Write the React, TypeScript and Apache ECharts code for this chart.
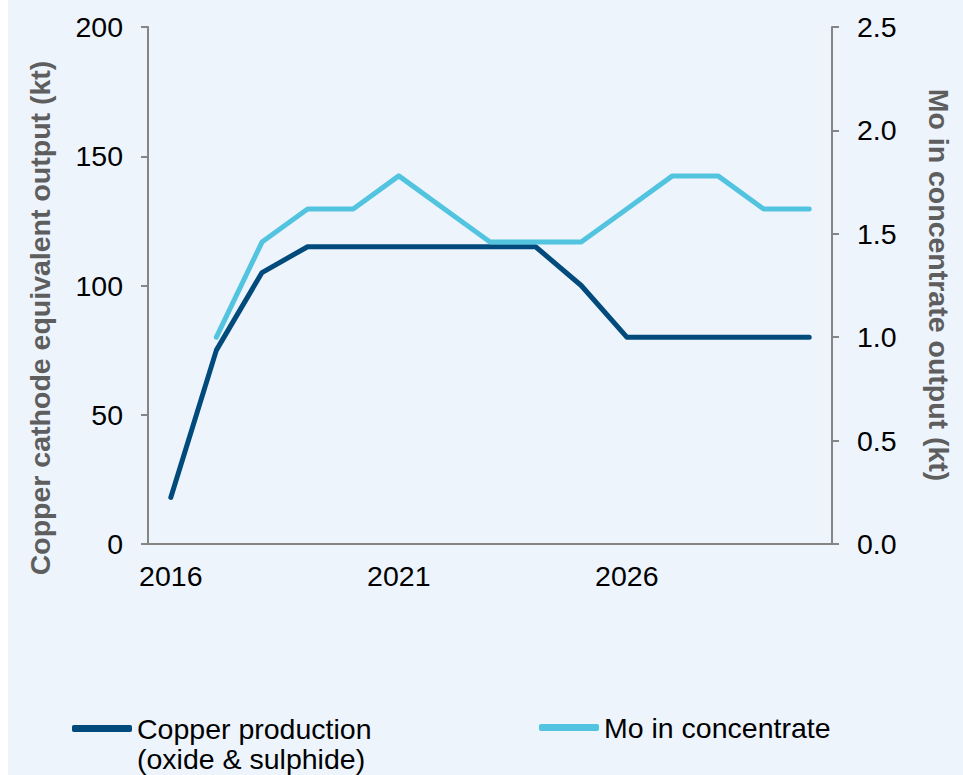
import React, { useEffect, useRef } from "react";
import * as echarts from "echarts";

const years = ["2016","2017","2018","2019","2020","2021","2022","2023","2024","2025","2026","2027","2028","2029","2030"];
const copperProduction = [18, 75, 105, 115, 115, 115, 115, 115, 115, 100, 80, 80, 80, 80, 80];
const moInConcentrate = [null, 1.0, 1.46, 1.62, 1.62, 1.78, 1.62, 1.46, 1.46, 1.46, 1.62, 1.78, 1.78, 1.62, 1.62];
const leftTicks = { min: 0, max: 200, interval: 50 };
const rightTicks = { min: 0, max: 2.5, interval: 0.5 };

const FONT = "'Liberation Sans', Arial, sans-serif";
const DARK = "#004A7C";
const LIGHT = "#52C4E0";
const AXIS = "#858585";

export default function App() {
  const ref = useRef<HTMLDivElement>(null);
  useEffect(() => {
    if (!ref.current) return;
    const chart = echarts.init(ref.current, null, { renderer: "svg" });
    chart.setOption({
      animation: false,
      backgroundColor: "#EDF4FC",
      textStyle: { fontFamily: FONT },
      grid: { left: 140, right: 131, top: 27, bottom: 231, containLabel: false },
      legend: [
        {
          data: ["Copper production"],
          left: 64,
          top: 714,
          padding: 0,
          itemWidth: 60,
          itemHeight: 7,
          icon: "roundRect",
          textStyle: { fontSize: 28.5, color: "#000", fontFamily: FONT },
        },
        {
          data: ["Mo in concentrate"],
          left: 531,
          top: 713,
          padding: 0,
          itemWidth: 60,
          itemHeight: 7,
          icon: "roundRect",
          textStyle: { fontSize: 28.5, color: "#000", fontFamily: FONT },
        },
      ],
      xAxis: {
        type: "category",
        data: years,
        boundaryGap: true,
        axisLine: { lineStyle: { color: AXIS, width: 2 } },
        axisTick: { interval: 4, length: 7, lineStyle: { color: AXIS, width: 2 } },
        axisLabel: { interval: 4, fontSize: 28.5, color: "#000", margin: 17, fontFamily: FONT },
        splitLine: { show: false },
      },
      yAxis: [
        {
          type: "value",
          min: leftTicks.min,
          max: leftTicks.max,
          interval: leftTicks.interval,
          axisLine: { show: true, lineStyle: { color: AXIS, width: 2 } },
          axisTick: { show: true, length: 7, lineStyle: { color: AXIS, width: 2 } },
          axisLabel: { fontSize: 28.5, color: "#000", margin: 25, fontFamily: FONT },
          splitLine: { show: false },
        },
        {
          type: "value",
          position: "right",
          min: rightTicks.min,
          max: rightTicks.max,
          interval: rightTicks.interval,
          axisLine: { show: true, lineStyle: { color: AXIS, width: 2 } },
          axisTick: { show: true, length: 7, lineStyle: { color: AXIS, width: 2 } },
          axisLabel: {
            fontSize: 28.5,
            color: "#000",
            margin: 25,
            fontFamily: FONT,
            formatter: (v: number) => v.toFixed(1),
          },
          splitLine: { show: false },
        },
      ],
      series: [
        {
          name: "Copper production",
          type: "line",
          yAxisIndex: 0,
          data: copperProduction,
          symbol: "none",
          color: DARK,
          lineStyle: { color: DARK, width: 5, cap: "round", join: "round" },
        },
        {
          name: "Mo in concentrate",
          type: "line",
          yAxisIndex: 1,
          data: moInConcentrate,
          symbol: "none",
          color: LIGHT,
          lineStyle: { color: LIGHT, width: 5, cap: "round", join: "round" },
        },
      ],
      graphic: [
        {
          type: "text",
          x: 32,
          y: 318,
          rotation: Math.PI / 2,
          style: {
            text: "Copper cathode equivalent output (kt)",
            font: `bold 28.5px ${FONT}`,
            fill: "#5E5E5E",
            align: "center",
            verticalAlign: "middle",
          },
        },
        {
          type: "text",
          x: 931,
          y: 285,
          rotation: -Math.PI / 2,
          style: {
            text: "Mo in concentrate output (kt)",
            font: `bold 28.5px ${FONT}`,
            fill: "#5E5E5E",
            align: "center",
            verticalAlign: "middle",
          },
        },
        {
          type: "text",
          x: 129,
          y: 759,
          style: {
            text: "(oxide & sulphide)",
            font: `28.5px ${FONT}`,
            fill: "#000",
            align: "left",
            verticalAlign: "middle",
          },
        },
      ],
    });
    return () => chart.dispose();
  }, []);
  return (
    <div
      ref={ref}
      style={{ position: "absolute", left: 8, top: 0, width: 955, height: 775 }}
    />
  );
}
